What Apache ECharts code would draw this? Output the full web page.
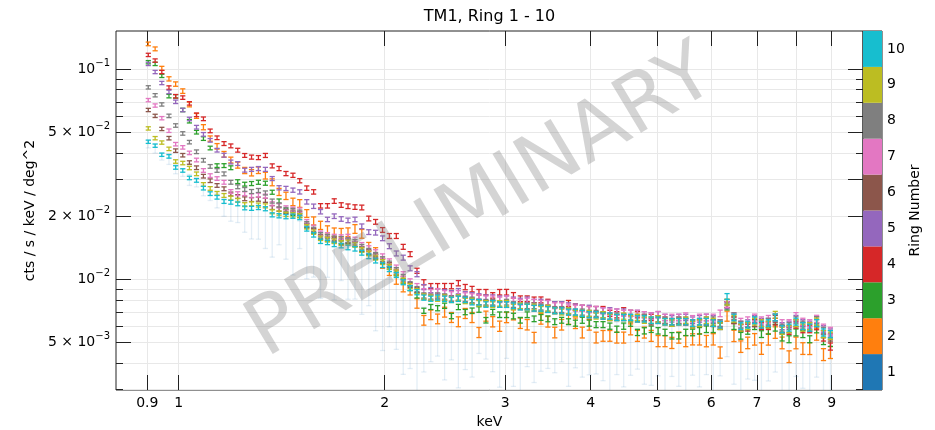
<!DOCTYPE html>
<html><head><meta charset="utf-8">
<script src="https://cdn.jsdelivr.net/npm/echarts@6/dist/echarts.min.js"></script>
<style>html,body{margin:0;padding:0;background:#fff;}#chart{width:935px;height:430px;}</style>
</head><body><div id="chart"></div>
<script>
// ---- data ----
const energies = [0.903,0.924,0.945,0.968,0.990,1.014,1.037,1.062,1.087,1.112,
1.138,1.165,1.192,1.220,1.249,1.278,1.308,1.339,1.370,1.402,
1.435,1.469,1.503,1.539,1.575,1.612,1.650,1.688,1.728,1.768,
1.810,1.852,1.896,1.940,1.986,2.032,2.080,2.129,2.179,2.230,
2.282,2.336,2.390,2.447,2.504,2.563,2.623,2.684,2.747,2.812,
2.877,2.945,3.014,3.085,3.157,3.231,3.307,3.384,3.464,3.545,
3.628,3.713,3.800,3.889,3.981,4.074,4.170,4.267,4.368,4.470,
4.575,4.682,4.792,4.904,5.019,5.137,5.257,5.381,5.508,5.636,
5.769,5.904,6.042,6.184,6.329,6.478,6.629,6.785,6.944,7.106,
7.273,7.444,7.617,7.798,7.981,8.168,8.359,8.555,8.755,8.962];

const ring1 = [0.0440,0.0420,0.0385,0.0375,0.0335,0.0322,0.0298,0.0290,0.0266,0.0250,
0.0238,0.0222,0.0215,0.0212,0.0195,0.0190,0.0185,0.0180,0.0168,0.0172,
0.0160,0.0150,0.0165,0.0140,0.0135,0.0125,0.0128,0.0118,0.0122,0.0115,
0.0112,0.0105,0.0100,0.0095,0.0082,0.0085,0.0075,0.0068,0.0065,0.0058,
0.0055,0.0058,0.0060,0.0052,0.0056,0.0050,0.0054,0.0052,0.0057,0.0055,
0.0052,0.0048,0.0054,0.0050,0.0047,0.0052,0.0049,0.0053,0.0051,0.0050,
0.0052,0.0047,0.0050,0.0049,0.0051,0.0048,0.0050,0.0047,0.0049,0.0046,
0.0050,0.0048,0.0046,0.0049,0.0047,0.0045,0.0048,0.0047,0.0046,0.0048,
0.0046,0.0049,0.0045,0.0047,0.0055,0.0046,0.0044,0.0048,0.0046,0.0045,
0.0047,0.0049,0.0044,0.0045,0.0048,0.0046,0.0044,0.0047,0.0043,0.0042];

const ring2 = [0.1320,0.1250,0.1010,0.0900,0.0850,0.0787,0.0680,0.0600,0.0530,0.0468,
0.0430,0.0394,0.0370,0.0350,0.0330,0.0322,0.0331,0.0312,0.0290,0.0261,
0.0250,0.0234,0.0230,0.0206,0.0190,0.0181,0.0172,0.0168,0.0167,0.0168,
0.0174,0.0165,0.0143,0.0135,0.0119,0.0110,0.0100,0.0092,0.0089,0.0077,
0.0064,0.0068,0.0065,0.0070,0.0066,0.0063,0.0069,0.0066,0.0056,0.0067,
0.0063,0.0060,0.0066,0.0068,0.0062,0.0061,0.0053,0.0065,0.0063,0.0056,
0.0061,0.0065,0.0062,0.0056,0.0061,0.0053,0.0054,0.0054,0.0053,0.0053,
0.0058,0.0054,0.0056,0.0054,0.0051,0.0051,0.0050,0.0053,0.0051,0.0052,
0.0052,0.0051,0.0052,0.0045,0.0067,0.0054,0.0048,0.0050,0.0052,0.0047,
0.0052,0.0056,0.0050,0.0043,0.0050,0.0047,0.0047,0.0055,0.0044,0.0045];

const ring3 = [0.1080,0.1060,0.0930,0.0745,0.0743,0.0640,0.0566,0.0502,0.0468,0.0422,
0.0348,0.0348,0.0340,0.0292,0.0284,0.0286,0.0290,0.0287,0.0260,0.0236,
0.0212,0.0206,0.0202,0.0180,0.0170,0.0158,0.0155,0.0153,0.0150,0.0152,
0.0147,0.0139,0.0134,0.0128,0.0122,0.0115,0.0107,0.0098,0.0091,0.0084,
0.0071,0.0074,0.0073,0.0075,0.0067,0.0074,0.0070,0.0071,0.0072,0.0064,
0.0070,0.0068,0.0068,0.0067,0.0064,0.0068,0.0065,0.0066,0.0065,0.0063,
0.0064,0.0063,0.0062,0.0064,0.0062,0.0061,0.0061,0.0060,0.0058,0.0060,
0.0062,0.0056,0.0057,0.0058,0.0057,0.0056,0.0054,0.0054,0.0056,0.0056,
0.0057,0.0058,0.0058,0.0060,0.0074,0.0060,0.0054,0.0057,0.0060,0.0055,
0.0057,0.0059,0.0053,0.0052,0.0056,0.0055,0.0052,0.0058,0.0051,0.0050];

const ring4 = [0.1170,0.1100,0.0970,0.0818,0.0744,0.0733,0.0688,0.0607,0.0581,0.0509,
0.0472,0.0443,0.0432,0.0412,0.0389,0.0382,0.0380,0.0389,0.0347,0.0337,
0.0319,0.0313,0.0295,0.0272,0.0261,0.0224,0.0224,0.0236,0.0226,0.0223,
0.0221,0.0220,0.0195,0.0188,0.0172,0.0161,0.0161,0.0143,0.0132,0.0110,
0.0097,0.0093,0.0093,0.0093,0.0093,0.0096,0.0092,0.0090,0.0087,0.0087,
0.0084,0.0087,0.0087,0.0084,0.0081,0.0081,0.0080,0.0080,0.0078,0.0076,
0.0076,0.0077,0.0074,0.0073,0.0072,0.0072,0.0072,0.0069,0.0068,0.0071,
0.0069,0.0068,0.0066,0.0066,0.0065,0.0064,0.0063,0.0064,0.0063,0.0062,
0.0062,0.0063,0.0062,0.0061,0.0076,0.0064,0.0059,0.0059,0.0062,0.0060,
0.0060,0.0063,0.0058,0.0057,0.0061,0.0058,0.0058,0.0060,0.0053,0.0048];

const ring5 = [0.1060,0.0970,0.0860,0.0780,0.0700,0.0640,0.0580,0.0530,0.0490,0.0459,
0.0412,0.0390,0.0362,0.0356,0.0331,0.0334,0.0337,0.0334,0.0302,0.0273,
0.0271,0.0266,0.0261,0.0234,0.0223,0.0210,0.0193,0.0200,0.0194,0.0191,
0.0193,0.0179,0.0168,0.0167,0.0157,0.0144,0.0133,0.0127,0.0113,0.0106,
0.0092,0.0089,0.0088,0.0087,0.0086,0.0088,0.0085,0.0084,0.0083,0.0082,
0.0082,0.0081,0.0081,0.0080,0.0079,0.0080,0.0078,0.0078,0.0077,0.0076,
0.0076,0.0075,0.0074,0.0073,0.0073,0.0072,0.0071,0.0071,0.0070,0.0070,
0.0069,0.0069,0.0068,0.0067,0.0068,0.0066,0.0065,0.0066,0.0066,0.0064,
0.0065,0.0066,0.0065,0.0062,0.0075,0.0066,0.0061,0.0062,0.0065,0.0063,
0.0063,0.0066,0.0060,0.0061,0.0065,0.0062,0.0061,0.0064,0.0058,0.0056];

const ring6 = [0.0640,0.0600,0.0520,0.0470,0.0410,0.0390,0.0360,0.0340,0.0310,0.0295,
0.0280,0.0270,0.0255,0.0248,0.0242,0.0240,0.0241,0.0238,0.0220,0.0216,
0.0210,0.0209,0.0206,0.0181,0.0171,0.0160,0.0157,0.0155,0.0152,0.0153,
0.0148,0.0140,0.0135,0.0129,0.0123,0.0117,0.0109,0.0101,0.0094,0.0089,
0.0083,0.0082,0.0083,0.0082,0.0081,0.0081,0.0080,0.0079,0.0078,0.0077,
0.0077,0.0076,0.0076,0.0075,0.0075,0.0074,0.0073,0.0073,0.0072,0.0071,
0.0071,0.0070,0.0069,0.0069,0.0068,0.0068,0.0067,0.0066,0.0066,0.0066,
0.0065,0.0065,0.0065,0.0063,0.0064,0.0063,0.0062,0.0063,0.0063,0.0061,
0.0062,0.0063,0.0062,0.0060,0.0076,0.0064,0.0059,0.0060,0.0062,0.0061,
0.0061,0.0065,0.0058,0.0058,0.0062,0.0060,0.0059,0.0062,0.0055,0.0053];

const ring7 = [0.0713,0.0672,0.0585,0.0510,0.0440,0.0425,0.0400,0.0370,0.0330,0.0312,
0.0302,0.0290,0.0262,0.0256,0.0256,0.0250,0.0252,0.0249,0.0229,0.0224,
0.0219,0.0216,0.0214,0.0188,0.0177,0.0166,0.0163,0.0160,0.0159,0.0160,
0.0155,0.0146,0.0141,0.0135,0.0129,0.0122,0.0114,0.0106,0.0098,0.0093,
0.0088,0.0087,0.0088,0.0086,0.0085,0.0086,0.0084,0.0083,0.0082,0.0081,
0.0081,0.0080,0.0081,0.0079,0.0078,0.0079,0.0078,0.0077,0.0077,0.0075,
0.0075,0.0074,0.0073,0.0073,0.0072,0.0072,0.0071,0.0070,0.0070,0.0069,
0.0069,0.0069,0.0068,0.0067,0.0068,0.0066,0.0066,0.0066,0.0067,0.0065,
0.0066,0.0066,0.0066,0.0069,0.0076,0.0067,0.0063,0.0064,0.0066,0.0064,
0.0065,0.0066,0.0062,0.0062,0.0067,0.0063,0.0062,0.0065,0.0059,0.0057];

const ring8 = [0.0820,0.0752,0.0680,0.0600,0.0540,0.0495,0.0450,0.0405,0.0369,0.0345,
0.0330,0.0318,0.0290,0.0276,0.0268,0.0262,0.0265,0.0258,0.0236,0.0226,
0.0215,0.0213,0.0209,0.0184,0.0173,0.0163,0.0160,0.0157,0.0156,0.0154,
0.0151,0.0143,0.0137,0.0131,0.0125,0.0119,0.0111,0.0103,0.0095,0.0090,
0.0084,0.0083,0.0084,0.0083,0.0081,0.0082,0.0081,0.0080,0.0078,0.0078,
0.0078,0.0076,0.0078,0.0076,0.0074,0.0075,0.0075,0.0074,0.0073,0.0072,
0.0072,0.0071,0.0070,0.0070,0.0069,0.0069,0.0068,0.0067,0.0067,0.0066,
0.0066,0.0066,0.0066,0.0064,0.0065,0.0064,0.0063,0.0064,0.0064,0.0062,
0.0063,0.0064,0.0064,0.0062,0.0078,0.0067,0.0061,0.0060,0.0064,0.0062,
0.0063,0.0066,0.0059,0.0060,0.0064,0.0061,0.0060,0.0064,0.0057,0.0055];

const ring9 = [0.0523,0.0470,0.0448,0.0418,0.0364,0.0358,0.0339,0.0318,0.0283,0.0271,
0.0257,0.0251,0.0244,0.0238,0.0227,0.0229,0.0226,0.0224,0.0210,0.0207,
0.0204,0.0203,0.0201,0.0178,0.0168,0.0157,0.0155,0.0152,0.0149,0.0150,
0.0146,0.0138,0.0133,0.0127,0.0121,0.0115,0.0108,0.0099,0.0093,0.0088,
0.0083,0.0082,0.0081,0.0082,0.0080,0.0082,0.0079,0.0079,0.0077,0.0077,
0.0076,0.0077,0.0077,0.0074,0.0075,0.0074,0.0074,0.0072,0.0073,0.0071,
0.0070,0.0071,0.0069,0.0069,0.0069,0.0067,0.0068,0.0066,0.0066,0.0067,
0.0065,0.0066,0.0064,0.0064,0.0065,0.0063,0.0062,0.0063,0.0064,0.0061,
0.0062,0.0064,0.0063,0.0060,0.0078,0.0065,0.0059,0.0060,0.0063,0.0062,
0.0061,0.0068,0.0057,0.0058,0.0062,0.0059,0.0060,0.0063,0.0055,0.0054];

const ring10 = [0.0452,0.0433,0.0392,0.0385,0.0341,0.0330,0.0304,0.0296,0.0272,0.0256,
0.0246,0.0235,0.0233,0.0229,0.0219,0.0218,0.0220,0.0217,0.0203,0.0201,
0.0199,0.0200,0.0197,0.0174,0.0163,0.0152,0.0150,0.0147,0.0145,0.0142,
0.0140,0.0134,0.0129,0.0123,0.0117,0.0112,0.0105,0.0097,0.0091,0.0087,
0.0082,0.0081,0.0082,0.0081,0.0080,0.0081,0.0080,0.0078,0.0078,0.0076,
0.0077,0.0076,0.0076,0.0075,0.0074,0.0074,0.0073,0.0073,0.0072,0.0071,
0.0071,0.0070,0.0070,0.0069,0.0068,0.0068,0.0067,0.0067,0.0066,0.0066,
0.0066,0.0065,0.0065,0.0064,0.0064,0.0063,0.0063,0.0063,0.0063,0.0062,
0.0063,0.0063,0.0062,0.0061,0.0083,0.0066,0.0060,0.0061,0.0064,0.0061,
0.0062,0.0066,0.0058,0.0059,0.0063,0.0060,0.0059,0.0062,0.0056,0.0055];

// relative 1-sigma errors in percent
const relErrRing1 = [4,5,4,6,5,4,6,5,6,5,
8,10,12,12,14,18,16,22,24,15,
22,30,15,28,24,35,20,32,19,30,
28,35,25,40,44,30,38,48,42,50,
34,30,28,36,26,39,31,34,22,24,
30,36,22,38,39,26,34,31,26,28,
22,34,24,30,31,26,34,38,28,33,
30,22,31,36,26,38,28,34,39,27,
33,28,38,26,22,31,41,30,28,38,
30,26,36,39,28,34,41,27,38,36];

const relErrRing2 = [2.0,2.1,2.2,2.3,2.4,2.5,2.6,2.7,2.8,2.9,
3.0,3.1,3.2,3.3,3.4,3.5,3.6,3.7,3.8,3.9,
4.0,4.1,4.2,4.3,4.4,4.5,4.6,4.6,4.7,4.7,
4.8,4.8,4.9,4.9,5.0,5.0,5.1,5.1,5.2,5.2,
5.3,5.3,5.3,5.4,5.4,5.4,5.5,5.5,5.5,5.5,
5.6,5.6,5.6,5.6,5.7,5.7,5.7,5.7,5.8,5.8,
5.8,5.8,5.8,5.9,5.9,5.9,5.9,5.9,6.0,6.0,
6.0,6.0,6.0,6.0,6.1,6.1,6.1,6.1,6.1,6.1,
6.2,6.2,6.2,6.2,5.5,6.2,6.3,6.3,6.3,6.3,
6.3,6.3,6.4,6.4,6.4,6.4,6.5,6.5,6.5,6.5];

const relErrOther = [1.8,1.8,1.8,1.9,1.9,1.9,1.9,2.0,2.0,2.0,
2.0,2.1,2.1,2.1,2.1,2.2,2.2,2.2,2.2,2.3,
2.3,2.3,2.3,2.4,2.4,2.4,2.4,2.5,2.5,2.5,
2.5,2.6,2.6,2.6,2.6,2.7,2.7,2.7,2.7,2.8,
2.8,2.8,2.8,2.9,2.9,2.9,2.9,3.0,3.0,3.0,
3.0,3.0,3.1,3.1,3.1,3.1,3.1,3.2,3.2,3.2,
3.2,3.2,3.3,3.3,3.3,3.3,3.3,3.4,3.4,3.4,
3.4,3.4,3.4,3.5,3.5,3.5,3.5,3.5,3.5,3.6,
3.6,3.6,3.6,3.6,3.2,3.6,3.7,3.7,3.7,3.7,
3.7,3.7,3.8,3.8,3.8,3.8,3.8,3.9,3.9,3.9];

const ringNames = ['1','2','3','4','5','6','7','8','9','10'];
const ringColors = ['#1f77b4','#ff7f0e','#2ca02c','#d62728','#9467bd','#8c564b','#e377c2','#7f7f7f','#bcbd22','#17becf'];

const xTickValues = [0.9,1,2,3,4,5,6,7,8,9];
const xTickLabels = ['0.9','1','2','3','4','5','6','7','8','9'];
const yLabelValues = [0.005,0.01,0.02,0.05,0.1];
const yLabelBase = ['5 \u00d7 10','10','2 \u00d7 10','5 \u00d7 10','10'];
const yLabelExp = ['\u22123','\u22122','\u22122','\u22122','\u22121'];
const yLongTicksLeft = [0.005,0.01,0.02,0.05,0.1];
const yLongTicksRight = [0.005,0.01,0.02,0.03,0.05,0.1];
const yAllTicks = [0.003,0.004,0.005,0.006,0.007,0.008,0.009,0.01,0.02,0.03,0.04,0.05,0.06,0.07,0.08,0.09,0.1];

// ---- chart ----
const FONT = 'DejaVu Sans';
const X_MIN = 0.81, X_MAX = 10, Y_MIN = 0.00298, Y_MAX = 0.152;
const ringValues = [ring1,ring2,ring3,ring4,ring5,ring6,ring7,ring8,ring9,ring10];

function errData(vals, rel) {
  return energies.map(function (e, k) {
    const v = vals[k];
    const err = v * rel[k] / 100;
    return [e, v, Math.max(v - err, 1e-6), v + err];
  });
}

function makeRender(color, capHalf, lw) {
  return function (params, api) {
    const x = api.value(0), lo = api.value(2), hi = api.value(3);
    const pTop = api.coord([x, hi]);
    const pBot = api.coord([x, lo]);
    const st = { stroke: color, lineWidth: lw, fill: null };
    return {
      type: 'group',
      children: [
        { type: 'line', shape: { x1: pTop[0], y1: pTop[1], x2: pBot[0], y2: pBot[1] }, style: st },
        { type: 'line', shape: { x1: pTop[0] - capHalf, y1: pTop[1], x2: pTop[0] + capHalf, y2: pTop[1] }, style: st },
        { type: 'line', shape: { x1: pBot[0] - capHalf, y1: pBot[1], x2: pBot[0] + capHalf, y2: pBot[1] }, style: st }
      ]
    };
  };
}

const series = [];
for (let r = 0; r < 10; r++) {
  const rel = r === 0 ? relErrRing1 : (r === 1 ? relErrRing2 : relErrOther);
  const color = r === 0 ? 'rgba(31,119,180,0.12)' : ringColors[r];
  series.push({
    type: 'custom',
    name: 'Ring ' + ringNames[r],
    xAxisIndex: 0, yAxisIndex: 0,
    clip: true, silent: true, animation: false,
    encode: { x: 0, y: 1 },
    renderItem: makeRender(color, 2.6, 1.3),
    data: errData(ringValues[r], rel),
    z: 2 + r
  });
}
series.push({
  type: 'bar', xAxisIndex: 2, yAxisIndex: 4, silent: true, animation: false,
  barWidth: '100%', barCategoryGap: '0%',
  data: ringNames.map(function (n, i) { return { value: 1, itemStyle: { color: ringColors[i] } }; })
});

const tickLine = { color: '#222', width: 1 };
const gridLine = { color: '#e8e8e8', width: 1 };
const txt = { fontFamily: FONT, fontSize: 14, color: '#000' };

function yFormatter(v) {
  for (let i = 0; i < yLabelValues.length; i++) {
    if (Math.abs(v - yLabelValues[i]) < 1e-9) return '{b|' + yLabelBase[i] + '}{s|' + yLabelExp[i] + '}';
  }
  return '';
}
function xFormatter(v) {
  for (let i = 0; i < xTickValues.length; i++) {
    if (Math.abs(v - xTickValues[i]) < 1e-9) return xTickLabels[i];
  }
  return '';
}

const yLog = { type: 'log', logBase: 10, min: Y_MIN, max: Y_MAX, gridIndex: 0 };
const xLog = { type: 'log', logBase: 10, min: X_MIN, max: X_MAX, gridIndex: 0 };

const option = {
  backgroundColor: '#fff',
  animation: false,
  grid: [
    { left: 116, right: 72, top: 31, bottom: 40, show: true, borderColor: '#222', borderWidth: 1, backgroundColor: 'transparent', containLabel: false, outerBoundsMode: 'none' },
    { left: 863, width: 19, top: 31, height: 359, show: true, borderColor: '#222', borderWidth: 1, containLabel: false, outerBoundsMode: 'none' }
  ],
  xAxis: [
    Object.assign({}, xLog, {
      position: 'bottom',
      axisLine: { show: false },
      axisTick: { show: true, inside: true, length: 15, customValues: xTickValues, lineStyle: tickLine },
      axisLabel: Object.assign({ show: true, customValues: xTickValues, formatter: xFormatter, margin: 6 }, txt),
      splitLine: { show: true, lineStyle: gridLine },
      minorTick: { show: false }, minorSplitLine: { show: false },
      name: 'keV', nameLocation: 'middle', nameGap: 21, nameTextStyle: txt
    }),
    Object.assign({}, xLog, {
      position: 'top',
      axisLine: { show: false },
      axisTick: { show: true, inside: true, length: 15, customValues: xTickValues, lineStyle: tickLine },
      axisLabel: { show: false },
      splitLine: { show: false }
    }),
    { type: 'value', gridIndex: 1, min: 0, max: 1, show: false }
  ],
  yAxis: [
    Object.assign({}, yLog, {
      position: 'left',
      axisLine: { show: false },
      axisTick: { show: true, inside: true, length: 15, customValues: yLongTicksLeft, lineStyle: tickLine },
      axisLabel: {
        show: true, customValues: yLabelValues, formatter: yFormatter, margin: 6,
        rich: {
          b: { fontFamily: FONT, fontSize: 14, color: '#000', lineHeight: 22 },
          s: { fontFamily: FONT, fontSize: 10, color: '#000', lineHeight: 11, verticalAlign: 'top' }
        }
      },
      splitLine: { show: false },
      name: 'cts / s / keV / deg^2', nameLocation: 'middle', nameGap: 66, nameRotate: 90, nameTextStyle: txt
    }),
    Object.assign({}, yLog, {
      position: 'left',
      axisLine: { show: false },
      axisTick: { show: true, inside: true, length: 7, customValues: yAllTicks, lineStyle: tickLine },
      axisLabel: { show: false },
      splitLine: { show: true, lineStyle: gridLine }
    }),
    Object.assign({}, yLog, {
      position: 'right',
      axisLine: { show: false },
      axisTick: { show: true, inside: true, length: 15, customValues: yLongTicksRight, lineStyle: tickLine },
      axisLabel: { show: false },
      splitLine: { show: false }
    }),
    Object.assign({}, yLog, {
      position: 'right',
      axisLine: { show: false },
      axisTick: { show: true, inside: true, length: 7, customValues: yAllTicks, lineStyle: tickLine },
      axisLabel: { show: false },
      splitLine: { show: false }
    }),
    {
      type: 'category', gridIndex: 1, data: ringNames, position: 'right',
      axisLine: { show: false }, axisTick: { show: false },
      axisLabel: Object.assign({ margin: 5 }, txt),
      splitLine: { show: false },
      name: 'Ring Number', nameLocation: 'middle', nameGap: 26, nameRotate: 90, nameTextStyle: txt
    }
  ],
  graphic: [
    { type: 'text', x: 489.5, y: 17, silent: true, z: 50,
      style: { text: 'TM1, Ring 1 - 10', fontFamily: FONT, fontSize: 16, fill: '#000', align: 'center', verticalAlign: 'middle' } },
    { type: 'text', x: 482, y: 204, rotation: 31 * Math.PI / 180, silent: true, z: 100,
      style: { text: 'PRELIMINARY', fontFamily: FONT, fontSize: 80, fill: 'rgba(128,128,128,0.34)', align: 'center', verticalAlign: 'middle' } }
  ],
  series: series
};

const chart = echarts.init(document.getElementById('chart'), null, { renderer: 'canvas', width: 935, height: 430 });
chart.setOption(option);
</script>
</body></html>
